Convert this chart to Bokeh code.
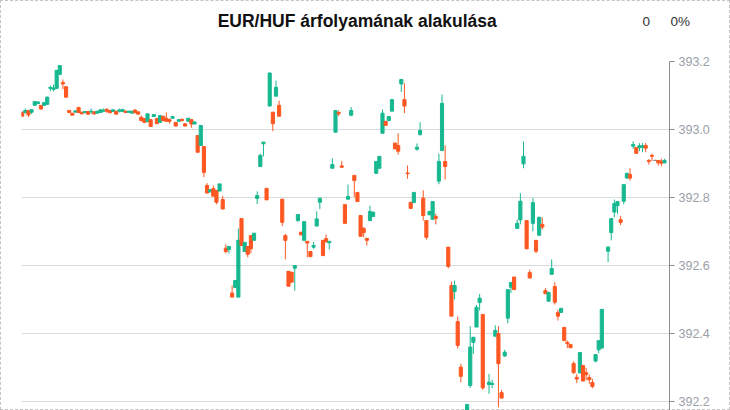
from bokeh.plotting import figure
from bokeh.layouts import column
from bokeh.models import Range1d, FixedTicker, PrintfTickFormatter, ColumnDataSource
from bokeh.core.properties import value
from bokeh.embed import file_html
from bokeh.resources import INLINE

title_text = "EUR/HUF árfolyamának alakulása"
change_abs = "0"
change_pct = "0%"
y_ticks = [392.2, 392.4, 392.6, 392.8, 393.0, 393.2]

idx = list(range(0, 141)) + list(range(142, 148)) + list(range(149, 186)) + list(range(187, 206))

opens = [
    393.051, 393.050, 393.056, 393.051, 393.071, 393.076, 393.071, 393.071, 393.074, 393.121,
    393.118, 393.121, 393.162, 393.138, 393.126, 393.056, 393.048, 393.051, 393.065, 393.051,
    393.049, 393.053, 393.052, 393.052, 393.048, 393.050, 393.054, 393.059, 393.056, 393.053,
    393.054, 393.054, 393.053, 393.054, 393.051, 393.048, 393.057, 393.052, 393.036, 393.032,
    393.023, 393.029, 393.038, 393.032, 393.021, 393.039, 393.033, 393.029, 393.033, 393.021,
    393.024, 393.030, 393.017, 393.024, 393.029, 393.016, 392.982, 392.953, 392.950, 392.835,
    392.816, 392.826, 392.821, 392.819, 392.794, 392.651, 392.647, 392.519, 392.535, 392.507,
    392.738, 392.641, 392.656, 392.688, 392.674, 392.797, 392.891, 392.958, 392.827, 393.069,
    393.051, 393.098, 393.071, 392.795, 392.688, 392.583, 392.580, 392.592, 392.732, 392.698,
    392.674, 392.671, 392.641, 392.654, 392.716, 392.786, 392.674, 392.679, 392.667, 392.886,
    392.992, 393.050, 392.893, 392.779, 392.795, 393.042, 392.865, 392.815, 392.747, 392.709,
    392.680, 392.732, 392.744, 392.871, 392.886, 392.989, 393.024, 393.026, 393.054, 392.960,
    392.953, 393.134, 393.088, 392.872, 392.786, 392.785, 392.942, 392.985, 392.798, 392.732,
    392.749, 392.736, 392.744, 392.848, 392.938, 392.906, 392.654, 392.541, 392.524, 392.435,
    392.301,
    392.174, 392.247, 392.374, 392.419, 392.491, 392.456,
    392.250, 392.250, 392.392, 392.400, 392.226, 392.334, 392.445, 392.536, 392.566, 392.709,
    392.734, 392.899, 392.732, 392.579, 392.724, 392.674, 392.689, 392.721, 392.526, 392.495,
    392.574, 392.538, 392.462, 392.462, 392.418, 392.374, 392.368, 392.312, 392.271, 392.284,
    392.306, 392.285, 392.271, 392.256, 392.319, 392.352, 392.357,
    392.642, 392.697, 392.757, 392.776, 392.735, 392.789, 392.857, 392.868, 392.951, 392.947,
    392.947, 392.947, 392.953, 392.909, 392.924, 392.909, 392.909, 392.907, 392.902,
]
highs = [
    393.053, 393.062, 393.056, 393.059, 393.082, 393.082, 393.071, 393.080, 393.097, 393.129,
    393.132, 393.174, 393.188, 393.147, 393.126, 393.056, 393.048, 393.055, 393.065, 393.051,
    393.053, 393.053, 393.062, 393.053, 393.054, 393.058, 393.062, 393.063, 393.056, 393.058,
    393.054, 393.062, 393.059, 393.056, 393.055, 393.054, 393.060, 393.052, 393.041, 393.032,
    393.046, 393.029, 393.044, 393.032, 393.041, 393.039, 393.050, 393.032, 393.040, 393.021,
    393.029, 393.032, 393.017, 393.033, 393.029, 393.024, 392.982, 393.012, 392.950, 392.842,
    392.823, 392.835, 392.821, 392.840, 392.805, 392.662, 392.656, 392.541, 392.556, 392.709,
    392.738, 392.668, 392.656, 392.688, 392.695, 392.818, 392.929, 392.963, 392.827, 393.168,
    393.051, 393.144, 393.085, 392.795, 392.693, 392.583, 392.580, 392.600, 392.750, 392.698,
    392.729, 392.671, 392.641, 392.669, 392.759, 392.798, 392.674, 392.691, 392.671, 392.915,
    393.056, 393.056, 392.907, 392.779, 392.838, 393.066, 392.865, 392.815, 392.747, 392.713,
    392.680, 392.776, 392.757, 392.906, 392.921, 393.059, 393.024, 393.038, 393.088, 392.960,
    392.989, 393.147, 393.136, 392.894, 392.786, 392.815, 392.959, 393.021, 392.821, 392.732,
    392.759, 392.788, 392.752, 392.929, 393.103, 392.953, 392.654, 392.553, 392.556, 392.450,
    392.311,
    392.191, 392.421, 392.389, 392.484, 392.516, 392.456,
    392.281, 392.264, 392.424, 392.421, 392.234, 392.352, 392.529, 392.550, 392.566, 392.735,
    392.813, 392.965, 392.732, 392.588, 392.798, 392.674, 392.742, 392.741, 392.534, 392.521,
    392.618, 392.551, 392.470, 392.474, 392.418, 392.379, 392.368, 392.318, 392.281, 392.344,
    392.306, 392.299, 392.279, 392.267, 392.338, 392.379, 392.471,
    392.657, 392.738, 392.794, 392.788, 392.746, 392.838, 392.873, 392.886, 392.965, 392.947,
    392.960, 392.960, 392.960, 392.913, 392.929, 392.911, 392.909, 392.914, 392.914,
]
lows = [
    393.038, 393.047, 393.036, 393.046, 393.070, 393.075, 393.060, 393.071, 393.072, 393.112,
    393.112, 393.121, 393.162, 393.118, 393.095, 393.050, 393.042, 393.051, 393.050, 393.046,
    393.049, 393.045, 393.045, 393.043, 393.048, 393.050, 393.051, 393.049, 393.049, 393.053,
    393.045, 393.050, 393.053, 393.048, 393.049, 393.048, 393.049, 393.045, 393.026, 393.021,
    393.023, 393.009, 393.038, 393.017, 393.021, 393.026, 393.024, 393.017, 393.033, 393.010,
    393.024, 393.024, 393.010, 393.024, 393.005, 393.016, 392.933, 392.953, 392.860, 392.813,
    392.816, 392.804, 392.780, 392.819, 392.766, 392.636, 392.635, 392.507, 392.535, 392.507,
    392.659, 392.641, 392.624, 392.636, 392.674, 392.781, 392.891, 392.921, 392.793, 393.069,
    392.995, 393.098, 393.039, 392.716, 392.618, 392.539, 392.551, 392.526, 392.729, 392.690,
    392.674, 392.624, 392.626, 392.649, 392.716, 392.766, 392.629, 392.669, 392.647, 392.886,
    392.992, 393.039, 392.889, 392.724, 392.795, 393.039, 392.801, 392.788, 392.686, 392.683,
    392.659, 392.732, 392.744, 392.871, 392.886, 392.989, 393.012, 393.026, 393.054, 392.943,
    392.926, 393.110, 393.048, 392.855, 392.768, 392.785, 392.938, 392.982, 392.732, 392.676,
    392.749, 392.736, 392.721, 392.839, 392.938, 392.853, 392.592, 392.451, 392.500, 392.356,
    392.256,
    392.170, 392.240, 392.340, 392.419, 392.468, 392.234,
    392.223, 392.240, 392.392, 392.183, 392.210, 392.331, 392.430, 392.519, 392.529, 392.709,
    392.721, 392.886, 392.649, 392.563, 392.701, 392.636, 392.689, 392.706, 392.517, 392.495,
    392.574, 392.485, 392.438, 392.462, 392.379, 392.357, 392.358, 392.281, 392.254, 392.284,
    392.260, 392.262, 392.252, 392.239, 392.315, 392.342, 392.357,
    392.610, 392.674, 392.742, 392.752, 392.719, 392.780, 392.857, 392.850, 392.943, 392.930,
    392.936, 392.933, 392.933, 392.897, 392.907, 392.907, 392.894, 392.892, 392.900,
]
closes = [
    393.039, 393.056, 393.043, 393.058, 393.082, 393.081, 393.060, 393.079, 393.095, 393.124,
    393.122, 393.174, 393.188, 393.134, 393.095, 393.050, 393.042, 393.055, 393.050, 393.046,
    393.053, 393.045, 393.054, 393.046, 393.054, 393.058, 393.057, 393.054, 393.049, 393.058,
    393.045, 393.057, 393.059, 393.050, 393.054, 393.054, 393.049, 393.045, 393.026, 393.021,
    393.046, 393.009, 393.044, 393.017, 393.041, 393.026, 393.024, 393.024, 393.038, 393.010,
    393.029, 393.026, 393.010, 393.033, 393.016, 393.022, 392.933, 393.012, 392.874, 392.813,
    392.823, 392.804, 392.786, 392.840, 392.766, 392.641, 392.656, 392.507, 392.556, 392.674,
    392.659, 392.668, 392.633, 392.649, 392.695, 392.806, 392.924, 392.963, 392.793, 393.166,
    393.017, 393.124, 393.039, 392.727, 392.674, 392.539, 392.551, 392.600, 392.750, 392.690,
    392.729, 392.666, 392.626, 392.659, 392.737, 392.798, 392.629, 392.669, 392.671, 392.897,
    393.056, 393.046, 392.889, 392.724, 392.803, 393.056, 392.850, 392.788, 392.686, 392.697,
    392.674, 392.759, 392.757, 392.906, 392.921, 393.048, 393.012, 393.038, 393.088, 392.943,
    392.936, 393.147, 393.069, 392.870, 392.768, 392.815, 392.948, 392.997, 392.747, 392.683,
    392.759, 392.788, 392.738, 392.906, 393.077, 392.891, 392.597, 392.451, 392.541, 392.365,
    392.274,
    392.191, 392.360, 392.389, 392.477, 392.504, 392.240,
    392.257, 392.253, 392.409, 392.311, 392.210, 392.345, 392.529, 392.550, 392.529, 392.724,
    392.789, 392.921, 392.649, 392.563, 392.785, 392.642, 392.742, 392.713, 392.517, 392.521,
    392.591, 392.492, 392.451, 392.474, 392.379, 392.370, 392.358, 392.285, 392.266, 392.344,
    392.260, 392.279, 392.264, 392.244, 392.338, 392.379, 392.471,
    392.654, 392.738, 392.782, 392.788, 392.727, 392.838, 392.871, 392.857, 392.956, 392.930,
    392.952, 392.952, 392.945, 392.906, 392.921, 392.909, 392.902, 392.901, 392.909,
]

UP = "#17b890"
DOWN = "#fe5722"
FLAT = "#8a8a8a"
FONT = "Liberation Sans"

W = 730
HEAD_H = 50
MAIN_H = 360
TOP_PAD = 11
FRAME_L = 21
FRAME_R = 669
HEAD_ROW = 21  # vertical centre of the header line (px from top)

colors = [UP if c > o else (DOWN if c < o else FLAT) for o, c in zip(opens, closes)]
tops = [max(o, c) for o, c in zip(opens, closes)]
bottoms = [min(o, c) for o, c in zip(opens, closes)]

src = ColumnDataSource(dict(x=idx, o=opens, h=highs, l=lows, c=closes,
                            top=tops, bottom=bottoms, color=colors))

# ---- header with the title and the change figures ----
head = figure(width=W, height=HEAD_H, output_backend="svg", toolbar_location=None,
              x_range=Range1d(FRAME_L, FRAME_R), y_range=Range1d(HEAD_H, 0),
              x_axis_location=None, y_axis_location="right",
              min_border_left=FRAME_L, min_border_right=W - FRAME_R,
              min_border_top=0, min_border_bottom=0)
head.outline_line_color = None
head.grid.visible = False
head.background_fill_color = None
head.border_fill_color = None
head.text(x=[356.7], y=[HEAD_ROW - 0.5], text=[title_text], text_align="center",
          text_baseline="middle", text_font=value(FONT), text_font_style="bold",
          text_font_size="17.5px", text_color="#111111")
head.text(x=[642], y=[HEAD_ROW - 0.5], text=[change_abs], text_align="left",
          text_baseline="middle", text_font=value(FONT),
          text_font_size="13.5px", text_color="#333333")
hax = head.yaxis[0]
hax.ticker = FixedTicker(ticks=[HEAD_ROW])
hax.major_label_overrides = {HEAD_ROW: change_pct}
hax.axis_line_color = None
hax.major_tick_line_color = None
hax.minor_tick_line_color = None
hax.major_tick_out = 0
hax.major_tick_in = 0
hax.minor_tick_out = 0
hax.minor_tick_in = 0
hax.major_label_standoff = 1
hax.major_label_text_font = FONT
hax.major_label_text_font_size = "13.5px"
hax.major_label_text_color = "#333333"

# ---- candlestick chart ----
frame_h = MAIN_H - TOP_PAD
p = figure(width=W, height=MAIN_H, output_backend="svg", toolbar_location=None,
           x_range=Range1d(-0.22, 206.6), y_range=Range1d(393.2 - frame_h / 340.0, 393.2),
           x_axis_location=None, y_axis_location="right",
           min_border_left=FRAME_L, min_border_right=W - FRAME_R,
           min_border_top=TOP_PAD, min_border_bottom=0)
p.outline_line_color = None
p.background_fill_color = None
p.border_fill_color = None

p.segment(x0="x", y0="h", x1="x", y1="l", line_color="color", line_width=1, source=src)
p.vbar(x="x", top="top", bottom="bottom", width=1.0, fill_color="color",
       line_color="color", line_width=1, source=src)

p.xgrid.visible = False
p.ygrid.grid_line_color = "#d8dbde"
p.ygrid.grid_line_width = 1

ax = p.yaxis[0]
ax.ticker = FixedTicker(ticks=y_ticks)
ax.formatter = PrintfTickFormatter(format="%.1f")
ax.axis_line_color = "#8c8c8c"
ax.major_tick_line_color = "#8c8c8c"
ax.major_tick_out = 5
ax.major_tick_in = 0
ax.minor_tick_out = 0
ax.minor_tick_in = 0
ax.minor_tick_line_color = None
ax.major_label_text_color = "#9aa0a6"
ax.major_label_text_font = FONT
ax.major_label_text_font_size = "12.5px"
ax.major_label_standoff = 4

page = column(head, p, spacing=0)
page.styles = {"outline": "1px dashed #c4c4c4", "outline-offset": "-1px",
               "background-color": "white"}

open("out.html", "w").write(file_html(page, INLINE))
